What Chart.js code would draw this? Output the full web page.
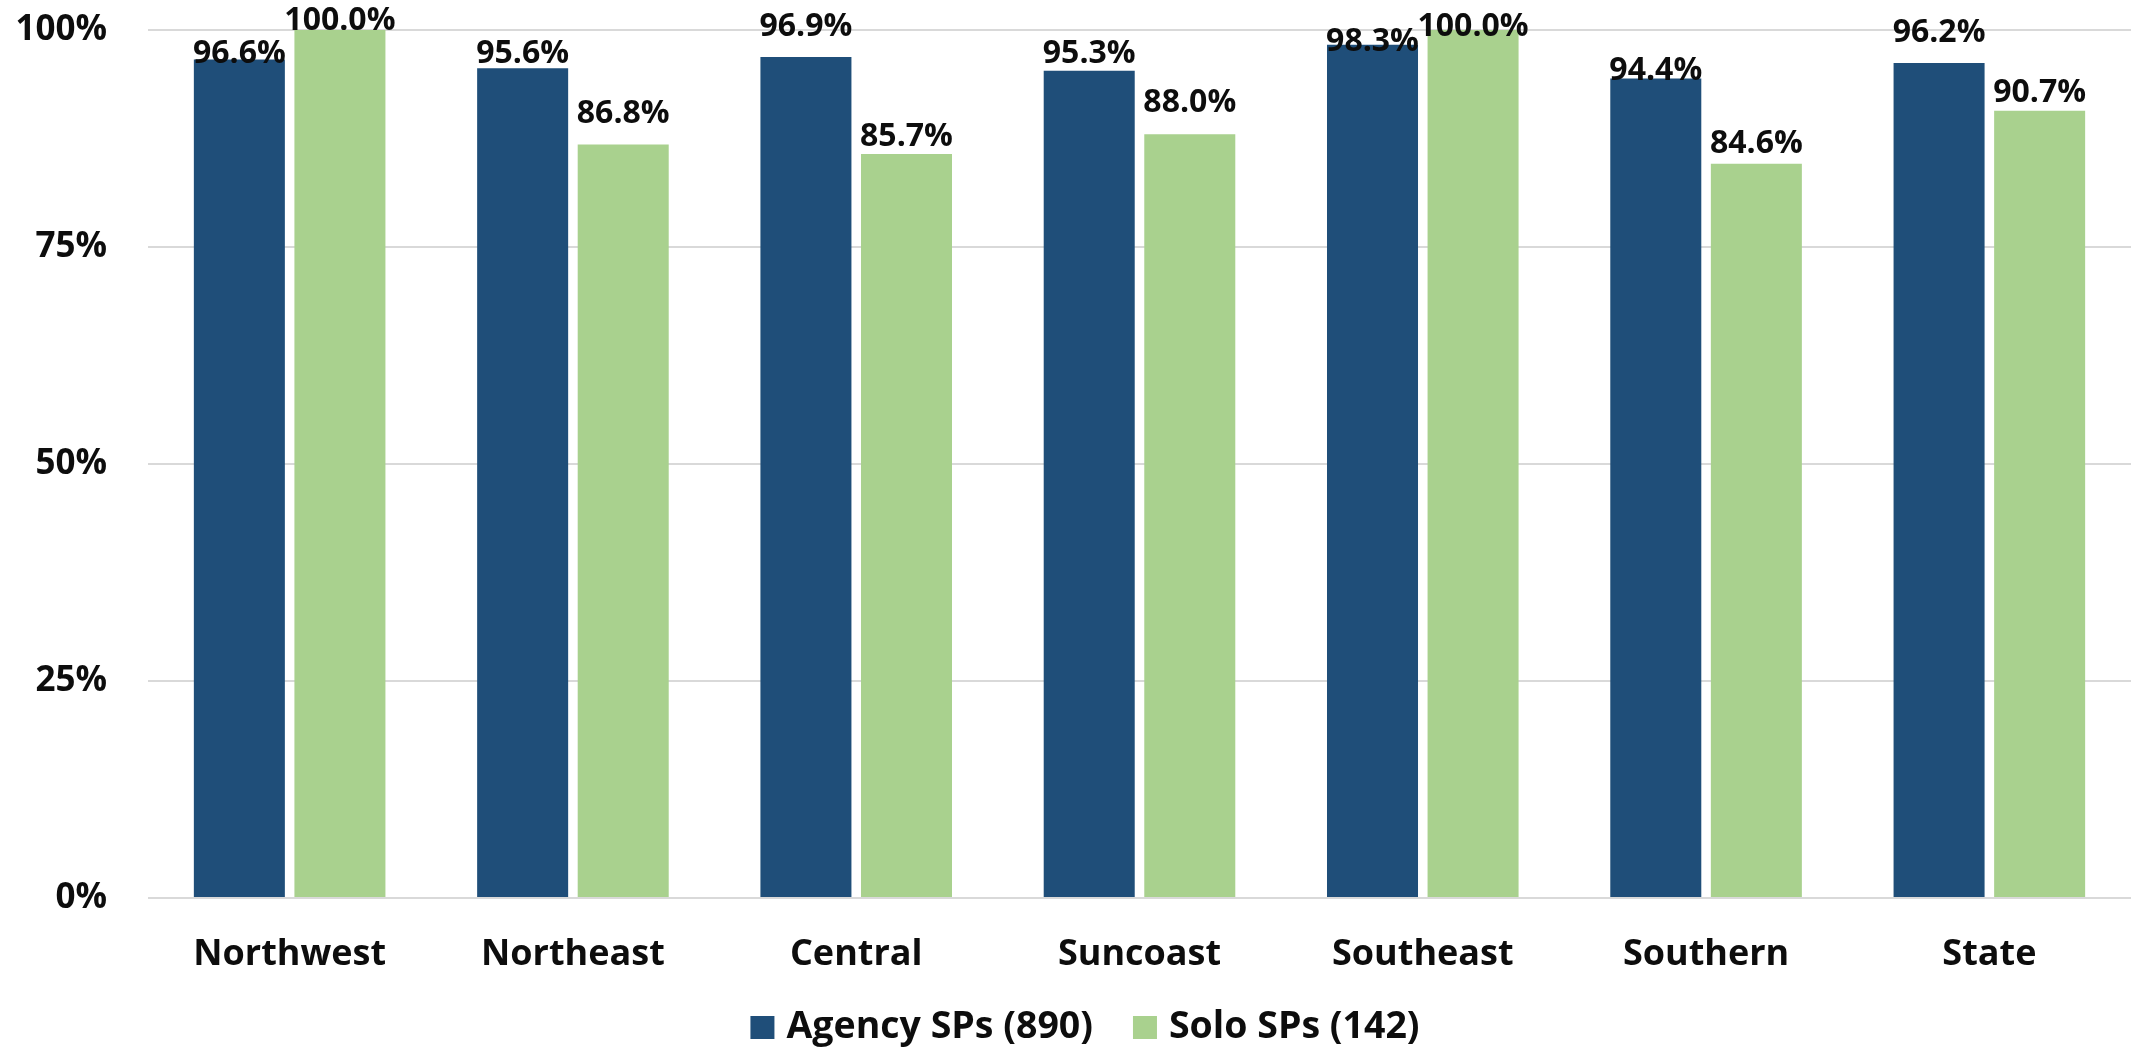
<!DOCTYPE html>
<html>
<head>
<meta charset="utf-8">
<script src="https://cdn.jsdelivr.net/npm/chart.js@4.4.1/dist/chart.umd.min.js"></script>
<style>
  html, body { margin: 0; padding: 0; background: #ffffff; }
  #wrap { width: 2131px; height: 1047px; position: relative; }
</style>
</head>
<body>
<div id="wrap"><canvas id="chart" width="2131" height="1047"></canvas></div>
<script>
// Share of service providers, by region
const regions = ['Northwest', 'Northeast', 'Central', 'Suncoast', 'Southeast', 'Southern', 'State'];
const agencyName = 'Agency SPs (890)';
const soloName = 'Solo SPs (142)';
const agencyPct = [96.6, 95.6, 96.9, 95.3, 98.3, 94.4, 96.2];
const soloPct = [100.0, 86.8, 85.7, 88.0, 100.0, 84.6, 90.7];
const yTickValues = [0, 25, 50, 75, 100];

// Styling
const FONT = '"Open Sans", "Noto Sans", sans-serif';
const INK = '#0d0d0d';
const BLUE = '#1f4e79';
const GREEN = '#a9d18e';
const GRID = '#d9d9d9';
// extra lift (px) of each value label above its bar, per series
const labelLift = [
  [-3, 5, 21, 8, -6, -1, 21],
  [0, 22, 8, 22, -6, 11, 9]
];
const legendStyle = { centerX: 1085, baseline: 1038, box: 24, boxH: 23, textGap: 12, itemGap: 40, size: 37.5 };

const valueLabels = {
  id: 'valueLabels',
  afterDatasetsDraw(chart) {
    const ctx = chart.ctx;
    ctx.save();
    ctx.font = 'bold 32px ' + FONT;
    ctx.fillStyle = INK;
    ctx.textAlign = 'center';
    ctx.textBaseline = 'alphabetic';
    chart.data.datasets.forEach((ds, di) => {
      chart.getDatasetMeta(di).data.forEach((bar, i) => {
        const v = ds.data[i];
        ctx.fillText(v.toFixed(1) + '%', bar.x, bar.y - labelLift[di][i]);
      });
    });
    ctx.restore();
  }
};

const bottomLegend = {
  id: 'bottomLegend',
  afterDraw(chart) {
    const s = legendStyle;
    const ctx = chart.ctx;
    ctx.save();
    ctx.font = 'bold ' + s.size + 'px ' + FONT;
    ctx.textBaseline = 'alphabetic';
    ctx.textAlign = 'left';
    const items = chart.data.datasets.map(ds => ({
      text: ds.label, color: ds.backgroundColor, w: ctx.measureText(ds.label).width
    }));
    const total = items.reduce((sum, it) => sum + s.box + s.textGap + it.w, 0) + s.itemGap * (items.length - 1);
    let x = s.centerX - total / 2;
    items.forEach(it => {
      ctx.fillStyle = it.color;
      ctx.fillRect(x, s.baseline - 22, s.box, s.boxH);
      ctx.fillStyle = INK;
      ctx.fillText(it.text, x + s.box + s.textGap, s.baseline);
      x += s.box + s.textGap + it.w + s.itemGap;
    });
    ctx.restore();
  }
};

new Chart(document.getElementById('chart'), {
  type: 'bar',
  data: {
    labels: regions,
    datasets: [
      { label: agencyName, data: agencyPct, backgroundColor: BLUE,
        categoryPercentage: 0.71, barPercentage: 0.905 },
      { label: soloName, data: soloPct, backgroundColor: GREEN,
        categoryPercentage: 0.71, barPercentage: 0.905 }
    ]
  },
  options: {
    responsive: false,
    animation: false,
    layout: { padding: { left: 0, right: 0, top: 30, bottom: 69 } },
    plugins: {
      legend: { display: false },
      tooltip: { enabled: false }
    },
    scales: {
      x: {
        grid: { display: false, drawTicks: false },
        border: { display: false },
        ticks: {
          color: INK,
          font: { family: FONT, size: 36, weight: 'bold' },
          padding: 35,
          maxRotation: 0
        },
        afterFit(scale) { scale.height = 80; }
      },
      y: {
        min: 0,
        max: 100,
        grid: { color: GRID, lineWidth: 2, drawTicks: true, tickLength: 41, tickColor: 'rgba(0,0,0,0)' },
        border: { display: false },
        afterBuildTicks(scale) { scale.ticks = yTickValues.map(v => ({ value: v })); },
        ticks: {
          color: INK,
          font: { family: FONT, size: 35, weight: 'bold' },
          padding: 0,
          callback: v => v + '%'
        },
        afterFit(scale) { scale.width = 148; }
      }
    }
  },
  plugins: [valueLabels, bottomLegend]
});
</script>
</body>
</html>
